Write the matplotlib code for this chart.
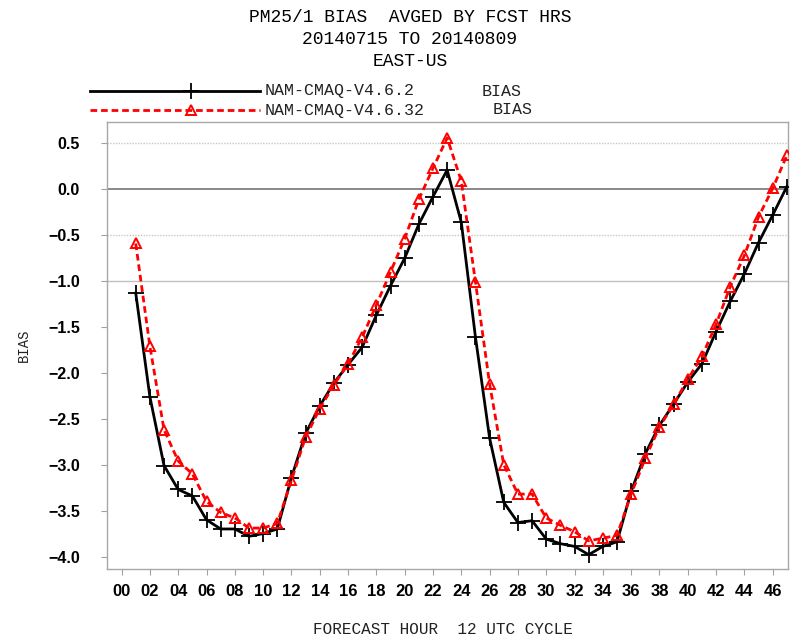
import matplotlib
matplotlib.use("Agg")
import matplotlib.pyplot as plt
from matplotlib.lines import Line2D

# Forecast hours and mean PM2.5 bias per hour for the two model versions
hours = list(range(1, 48))
bias_v462 = [
    -1.13, -2.26, -3.01, -3.27, -3.34, -3.60, -3.70, -3.70, -3.78, -3.75,
    -3.70, -3.14, -2.66, -2.36, -2.11, -1.91, -1.72, -1.37, -1.05, -0.75,
    -0.38, -0.08, 0.21, -0.36, -1.61, -2.71, -3.41, -3.63, -3.61, -3.81,
    -3.86, -3.89, -3.98, -3.89, -3.84, -3.29, -2.88, -2.57, -2.34, -2.10,
    -1.90, -1.55, -1.22, -0.92, -0.58, -0.28, 0.03,
]
bias_v4632 = [
    -0.59, -1.71, -2.62, -2.96, -3.10, -3.40, -3.52, -3.58, -3.69, -3.69,
    -3.64, -3.17, -2.70, -2.39, -2.13, -1.90, -1.61, -1.26, -0.90, -0.54,
    -0.11, 0.23, 0.56, 0.09, -1.01, -2.12, -3.00, -3.32, -3.32, -3.58,
    -3.66, -3.73, -3.83, -3.80, -3.77, -3.32, -2.93, -2.59, -2.34, -2.07,
    -1.82, -1.47, -1.06, -0.72, -0.30, 0.01, 0.37,
]
xtick_hours = list(range(0, 48, 2))
xtick_labels = [f"{h:02d}" for h in xtick_hours]
ytick_values = [0.5, 0.0, -0.5, -1.0, -1.5, -2.0, -2.5, -3.0, -3.5, -4.0]

series_names = ["NAM-CMAQ-V4.6.2", "NAM-CMAQ-V4.6.32"]
title_lines = ["PM25/1 BIAS  AVGED BY FCST HRS", "20140715 TO 20140809", "EAST-US"]
xlabel = "FORECAST HOUR  12 UTC CYCLE"
ylabel = "BIAS"

W, H = 792, 639
fig = plt.figure(figsize=(W / 100, H / 100), dpi=100)


def fx(x):
    return x / W


def fy(y):
    return 1 - y / H


mono = "Liberation Mono"
tickfont = "Liberation Sans"

ax = fig.add_axes([fx(107), fy(569), fx(788) - fx(107), fy(122) - fy(569)])
ax.set_xlim(-1.03, 47.08)
ax.set_ylim(-4.136, 0.733)

# reference lines across the plot
ax.axhline(0.5, color="#c8c8c8", lw=1.0, ls=(0, (1, 1)), zorder=1)
ax.axhline(-0.5, color="#c8c8c8", lw=1.0, ls=(0, (1, 1)), zorder=1)
ax.axhline(0.0, color="#808080", lw=1.3, zorder=1)
ax.axhline(-1.0, color="#c0c0c0", lw=1.0, zorder=1)

black_style = dict(color="black", lw=2.0, marker="+", ms=11, mew=1.3)
red_style = dict(color="red", lw=2.0, ls=(0, (2.4, 1.4)), marker="^", ms=7.5,
                 mfc="none", mec="red", mew=1.4)

ax.plot(hours, bias_v462, zorder=3, **black_style)
ax.plot(hours, bias_v4632, zorder=4, **red_style)

ax.set_xticks(xtick_hours)
ax.set_xticklabels(xtick_labels)
ax.set_yticks(ytick_values)
ax.set_yticklabels([f"{v:.1f}".replace("-", "\u2212") for v in ytick_values])
ax.tick_params(axis="x", direction="out", length=4.5, width=0.8, color="#a0a0a0",
               pad=6)
ax.tick_params(axis="y", direction="out", length=4.5, width=0.8, color="#a0a0a0",
               pad=15)
for lab in ax.get_xticklabels():
    lab.set_fontfamily(tickfont)
    lab.set_fontweight("bold")
    lab.set_fontsize(12)
for lab in ax.get_yticklabels():
    lab.set_fontfamily(tickfont)
    lab.set_fontweight("bold")
    lab.set_fontsize(11.5)
for sp in ax.spines.values():
    sp.set_color("#a8a8a8")
    sp.set_linewidth(1.0)

# titles
for i, line in enumerate(title_lines):
    fig.text(fx(410), fy(17 + 22 * i), line, ha="center", va="center",
             family=mono, fontsize=13, color="black")

# axis labels
fig.text(fx(443), fy(629), xlabel, ha="center", va="center", family=mono,
         fontsize=11.5, color="#222222")
fig.text(fx(24), fy(345), ylabel, ha="center", va="center", rotation=90,
         family=mono, fontsize=10, color="#222222")

# legend rows drawn above the plot
legend_rows = [
    (91, black_style, series_names[0], 482),
    (110, red_style, series_names[1], 493),
]
for y, style, name, bias_x in legend_rows:
    line_kw = {k: v for k, v in style.items() if k in ("color", "lw", "ls")}
    fig.add_artist(Line2D([fx(90), fx(260)], [fy(y), fy(y)],
                          transform=fig.transFigure, **line_kw))
    mk_kw = {k: v for k, v in style.items()
             if k in ("color", "marker", "ms", "mfc", "mec", "mew")}
    fig.add_artist(Line2D([fx(191)], [fy(y)], transform=fig.transFigure,
                          ls="none", **mk_kw))
    fig.text(fx(265), fy(y), name, ha="left", va="center", family=mono,
             fontsize=12, color="#222222")
    fig.text(fx(bias_x), fy(y), "BIAS", ha="left", va="center", family=mono,
             fontsize=12, color="#222222")

fig.savefig("out.png", dpi=100)
